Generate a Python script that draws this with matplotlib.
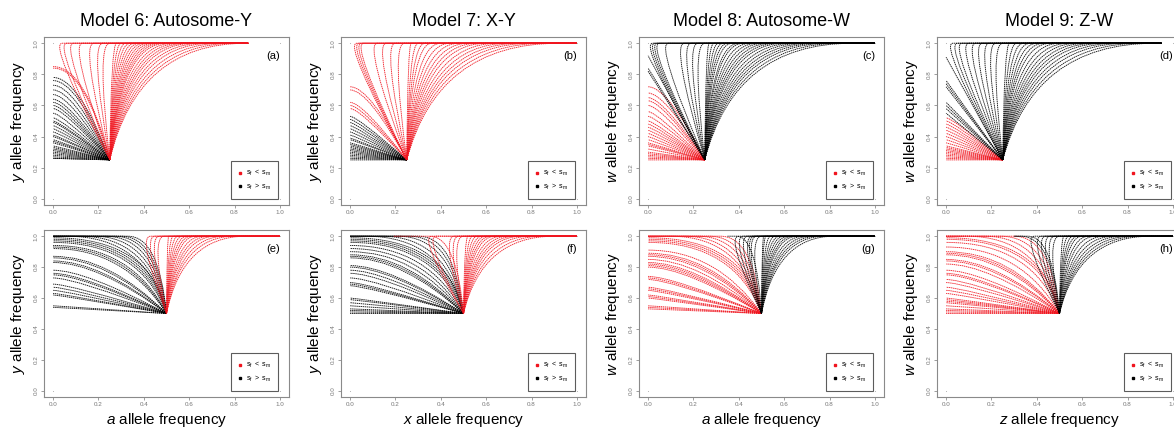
import matplotlib
matplotlib.use("Agg")
import matplotlib.pyplot as plt
from matplotlib.path import Path
from matplotlib.patches import PathPatch
from matplotlib.lines import Line2D
from matplotlib.ticker import FormatStrFormatter

plt.rcParams['font.family'] = 'Liberation Sans'
plt.rcParams['mathtext.fontset'] = 'custom'
plt.rcParams['mathtext.rm'] = 'Liberation Sans'
plt.rcParams['mathtext.it'] = 'Liberation Sans:italic'

RED = '#f0141e'
BLACK = '#000000'
LW = 0.65
DOTS = (0, (1.6, 0.7))  # trajectories are drawn as runs of points

# starting frequencies of the trajectories
start_top = (0.25, 0.25)
start_bottom = (0.5, 0.5)

# corner points plotted in every panel
corner_x = [0, 1, 0, 1]
corner_y = [0, 0, 1, 1]

ticks = [0.0, 0.2, 0.4, 0.6, 0.8, 1.0]

# (a) Model 6, top row
a_red_up = [0.04, 0.06, 0.09, 0.13, 0.18, 0.22, 0.25, 0.28, 0.3, 0.32, 0.34, 0.36,
            0.38, 0.4, 0.42, 0.44, 0.46, 0.48, 0.5, 0.53, 0.56, 0.59, 0.62, 0.66,
            0.7, 0.75, 0.8, 0.85]
a_red_top_end = 0.86
a_red_left = [0.85, 0.84]
a_black_left = [0.26, 0.26, 0.27, 0.28, 0.29, 0.3, 0.31, 0.32, 0.33, 0.34, 0.36,
                0.37, 0.38, 0.4, 0.41, 0.43, 0.45, 0.47, 0.49, 0.5, 0.52, 0.55,
                0.58, 0.6, 0.62, 0.64, 0.67, 0.7, 0.73, 0.76, 0.78]

# (b) Model 7, top row
b_red_up = [0.03, 0.04, 0.05, 0.06, 0.12, 0.16, 0.2, 0.24, 0.27, 0.3, 0.33, 0.36,
            0.4, 0.44, 0.48, 0.52, 0.56, 0.6, 0.65, 0.7, 0.75, 0.8, 0.86, 0.92]
b_red_top_end = 1.0
b_red_left = [0.72, 0.7, 0.62, 0.6, 0.58]
b_black_left = [0.25, 0.26, 0.27, 0.28, 0.29, 0.3, 0.31, 0.32, 0.33, 0.34, 0.35,
                0.36, 0.38, 0.39, 0.41, 0.43, 0.45, 0.47, 0.49, 0.51, 0.53]

# (c) Model 8, top row
c_black_up = [0.02, 0.03, 0.04, 0.05, 0.09, 0.16, 0.19, 0.22, 0.25, 0.27, 0.29,
              0.31, 0.33, 0.35, 0.37, 0.4, 0.42, 0.45, 0.48, 0.51, 0.54, 0.57,
              0.6, 0.64, 0.68, 0.72, 0.76, 0.8, 0.85, 0.9]
c_black_top_end = 1.0
c_black_left = [0.92, 0.84, 0.82]
c_red_left = [0.25, 0.26, 0.27, 0.28, 0.29, 0.3, 0.32, 0.34, 0.35, 0.36, 0.38, 0.4,
              0.42, 0.44, 0.46, 0.48, 0.5, 0.53, 0.56, 0.6, 0.63, 0.65, 0.68, 0.72]

# (d) Model 9, top row
d_black_up = [0.03, 0.05, 0.07, 0.1, 0.13, 0.16, 0.19, 0.22, 0.25, 0.28, 0.31,
              0.34, 0.37, 0.4, 0.43, 0.46, 0.5, 0.54, 0.58, 0.62, 0.66, 0.7,
              0.75, 0.8, 0.86, 0.92]
d_black_top_end = 0.95
d_black_left = [0.91, 0.76, 0.74, 0.72, 0.62, 0.6, 0.58, 0.55]
d_red_left = [0.25, 0.26, 0.27, 0.28, 0.29, 0.3, 0.31, 0.32, 0.33, 0.34, 0.36,
              0.38, 0.4, 0.42, 0.44, 0.46, 0.48, 0.5, 0.52]

# (e) Model 6, bottom row
e_black_left = [0.54, 0.55, 0.62, 0.63, 0.65, 0.67, 0.69, 0.73, 0.75, 0.76, 0.78,
                0.83, 0.84, 0.86, 0.87, 0.92, 0.93, 0.94, 0.96, 0.97, 0.98, 0.99]
e_black_up = [0.33, 0.3, 0.27, 0.23, 0.18, 0.12, 0.06]
e_black_top_end = 0.0
e_red_up = [0.43, 0.45, 0.47, 0.49, 0.51, 0.53, 0.55, 0.57, 0.59, 0.61, 0.63,
            0.66, 0.69, 0.72, 0.76, 0.8, 0.85]
e_red_top_end = 1.0

# (f) Model 7, bottom row
f_black_left = [0.5, 0.51, 0.52, 0.53, 0.55, 0.57, 0.59, 0.6, 0.68, 0.69, 0.7,
                0.73, 0.76, 0.78, 0.8, 0.81, 0.86, 0.87, 0.88, 0.9, 0.92, 0.94,
                0.96, 0.97, 0.98, 0.99]
f_black_up = [0.3, 0.26, 0.21, 0.14, 0.07]
f_black_top_end = 0.0
f_red_up = [0.36, 0.38, 0.46, 0.48, 0.5, 0.52, 0.54, 0.56, 0.58, 0.6, 0.62, 0.64,
            0.67, 0.7, 0.73, 0.76, 0.8, 0.85, 0.9]
f_red_top_end = 1.0
f_red_back = [0.35]
f_red_back_end = 0.19

# (g) Model 8, bottom row
g_red_left = [0.53, 0.54, 0.55, 0.6, 0.61, 0.62, 0.65, 0.66, 0.67, 0.72, 0.73,
              0.74, 0.8, 0.81, 0.82, 0.83, 0.85, 0.87, 0.88, 0.89, 0.91, 0.96,
              0.97, 0.98, 0.99]
g_red_up = [0.32, 0.27, 0.22, 0.16, 0.1]
g_red_top_end = 0.0
g_black_up = [0.4, 0.42, 0.44, 0.46, 0.47, 0.48, 0.5, 0.51, 0.52, 0.54, 0.56,
              0.58, 0.6, 0.62, 0.64, 0.66, 0.69, 0.72, 0.75, 0.78, 0.82]
g_black_top_end = 1.0
g_black_back = [0.39]
g_black_back_end = 0.35

# (h) Model 9, bottom row
h_red_left = [0.5, 0.51, 0.52, 0.53, 0.55, 0.57, 0.58, 0.59, 0.6, 0.63, 0.65,
              0.67, 0.7, 0.72, 0.75, 0.76, 0.78, 0.82, 0.84, 0.85, 0.88, 0.89,
              0.9, 0.93, 0.96, 0.98, 0.99]
h_red_up = [0.3, 0.24, 0.17, 0.09]
h_red_top_end = 0.0
h_black_up = [0.39, 0.42, 0.44, 0.46, 0.48, 0.5, 0.52, 0.54, 0.56, 0.58, 0.6,
              0.63, 0.66, 0.7, 0.74, 0.78, 0.82, 0.86, 0.9]
h_black_top_end = 1.0
h_black_back = [0.33, 0.36]
h_black_back_end = 0.3


def add_curve(ax, verts, codes, color):
    ax.add_patch(PathPatch(Path(verts, codes), fill=False, edgecolor=color,
                           lw=LW, linestyle=DOTS, alpha=0.9))


def draw_left(ax, start, ends, color, bend=1.0):
    # trajectories that run to the x = 0 edge
    x0, y0 = start
    for e in ends:
        r = (e - y0) / (1 - y0)
        c = x0 * 0.9 * bend * r * r
        add_curve(ax, [(x0, y0), (c, e), (0, e)],
                  [Path.MOVETO, Path.CURVE3, Path.CURVE3], color)


def draw_up(ax, start, knees, top_end, color):
    # trajectories that reach y = 1 at the knee, then slide along it
    x0, y0 = start
    for k in knees:
        d = 1 if top_end >= k else -1
        if (k - x0) * d > 0:
            c = x0 + 0.2 * (k - x0)
        else:
            c = k - 0.06 * d
        add_curve(ax, [(x0, y0), (c, 1), (k, 1), (top_end, 1)],
                  [Path.MOVETO, Path.CURVE3, Path.CURVE3, Path.LINETO], color)


fig = plt.figure(figsize=(11.74, 4.32), dpi=100)
W, H = 1174.0, 432.0
lefts = [44, 341, 639, 937]
box_w = 245


def make_axes(col, row):
    if row == 0:
        top, bottom = 37, 205
    else:
        top, bottom = 230, 397
    ax = fig.add_axes([lefts[col] / W, 1 - bottom / H, box_w / W, (bottom - top) / H])
    ax.set_xlim(-0.04, 1.04)
    ax.set_ylim(-0.04, 1.04)
    ax.set_xticks(ticks)
    ax.set_yticks(ticks)
    ax.xaxis.set_major_formatter(FormatStrFormatter('%.1f'))
    ax.yaxis.set_major_formatter(FormatStrFormatter('%.1f'))
    ax.tick_params(labelsize=4.5, colors='#777777', length=2.5, width=0.5, pad=1.2)
    for lab in ax.get_yticklabels():
        lab.set_rotation(90)
        lab.set_va('center')
    for sp in ax.spines.values():
        sp.set_color('#8a8a8a')
        sp.set_linewidth(0.8)
    ax.scatter(corner_x, corner_y, s=0.6, c='#b0b0b0', linewidths=0, zorder=1)
    return ax


def finish(ax, letter, ylabel, xlabel=None, title=None):
    ax.text(1.0, 0.92, letter, ha='right', va='center', fontsize=8)
    ax.set_ylabel(ylabel, fontsize=11)
    ax.yaxis.set_label_coords(-0.069, 0.5)
    if xlabel:
        ax.set_xlabel(xlabel, fontsize=11)
        ax.xaxis.set_label_coords(0.5, -0.085)
    if title:
        ax.set_title(title, fontsize=13, pad=8)
    handles = [Line2D([], [], marker='s', color=RED, linestyle='none', markersize=1.8),
               Line2D([], [], marker='s', color=BLACK, linestyle='none', markersize=1.8)]
    leg = ax.legend(handles, [r'$\mathrm{s_f\ <\ s_m}$', r'$\mathrm{s_f\ >\ s_m}$'],
                    loc='lower right', bbox_to_anchor=(0.954, 0.037),
                    fontsize=5, frameon=True, fancybox=False, borderpad=1.0,
                    handletextpad=0.4, handlelength=0.8, labelspacing=0.5,
                    borderaxespad=0)
    leg.get_frame().set_edgecolor('#333333')
    leg.get_frame().set_linewidth(0.8)


# top row
ax = make_axes(0, 0)
draw_left(ax, start_top, a_black_left, BLACK)
draw_left(ax, start_top, a_red_left, RED)
draw_up(ax, start_top, a_red_up, a_red_top_end, RED)
finish(ax, '(a)', r'$y$ allele frequency', title='Model 6: Autosome-Y')

ax = make_axes(1, 0)
draw_left(ax, start_top, b_black_left, BLACK)
draw_left(ax, start_top, b_red_left, RED)
draw_up(ax, start_top, b_red_up, b_red_top_end, RED)
finish(ax, '(b)', r'$y$ allele frequency', title='Model 7: X-Y')

ax = make_axes(2, 0)
draw_left(ax, start_top, c_red_left, RED)
draw_left(ax, start_top, c_black_left, BLACK, bend=0.0)
draw_up(ax, start_top, c_black_up, c_black_top_end, BLACK)
finish(ax, '(c)', r'$w$ allele frequency', title='Model 8: Autosome-W')

ax = make_axes(3, 0)
draw_left(ax, start_top, d_red_left, RED)
draw_left(ax, start_top, d_black_left, BLACK, bend=0.0)
draw_up(ax, start_top, d_black_up, d_black_top_end, BLACK)
finish(ax, '(d)', r'$w$ allele frequency', title='Model 9: Z-W')

# bottom row
ax = make_axes(0, 1)
draw_left(ax, start_bottom, e_black_left, BLACK)
draw_up(ax, start_bottom, e_black_up, e_black_top_end, BLACK)
draw_up(ax, start_bottom, e_red_up, e_red_top_end, RED)
finish(ax, '(e)', r'$y$ allele frequency', xlabel=r'$a$ allele frequency')

ax = make_axes(1, 1)
draw_left(ax, start_bottom, f_black_left, BLACK)
draw_up(ax, start_bottom, f_black_up, f_black_top_end, BLACK)
draw_up(ax, start_bottom, f_red_back, f_red_back_end, RED)
draw_up(ax, start_bottom, f_red_up, f_red_top_end, RED)
finish(ax, '(f)', r'$y$ allele frequency', xlabel=r'$x$ allele frequency')

ax = make_axes(2, 1)
draw_left(ax, start_bottom, g_red_left, RED)
draw_up(ax, start_bottom, g_red_up, g_red_top_end, RED)
draw_up(ax, start_bottom, g_black_back, g_black_back_end, BLACK)
draw_up(ax, start_bottom, g_black_up, g_black_top_end, BLACK)
finish(ax, '(g)', r'$w$ allele frequency', xlabel=r'$a$ allele frequency')

ax = make_axes(3, 1)
draw_left(ax, start_bottom, h_red_left, RED)
draw_up(ax, start_bottom, h_red_up, h_red_top_end, RED)
draw_up(ax, start_bottom, h_black_back, h_black_back_end, BLACK)
draw_up(ax, start_bottom, h_black_up, h_black_top_end, BLACK)
finish(ax, '(h)', r'$w$ allele frequency', xlabel=r'$z$ allele frequency')

fig.savefig('out.png', dpi=100)
